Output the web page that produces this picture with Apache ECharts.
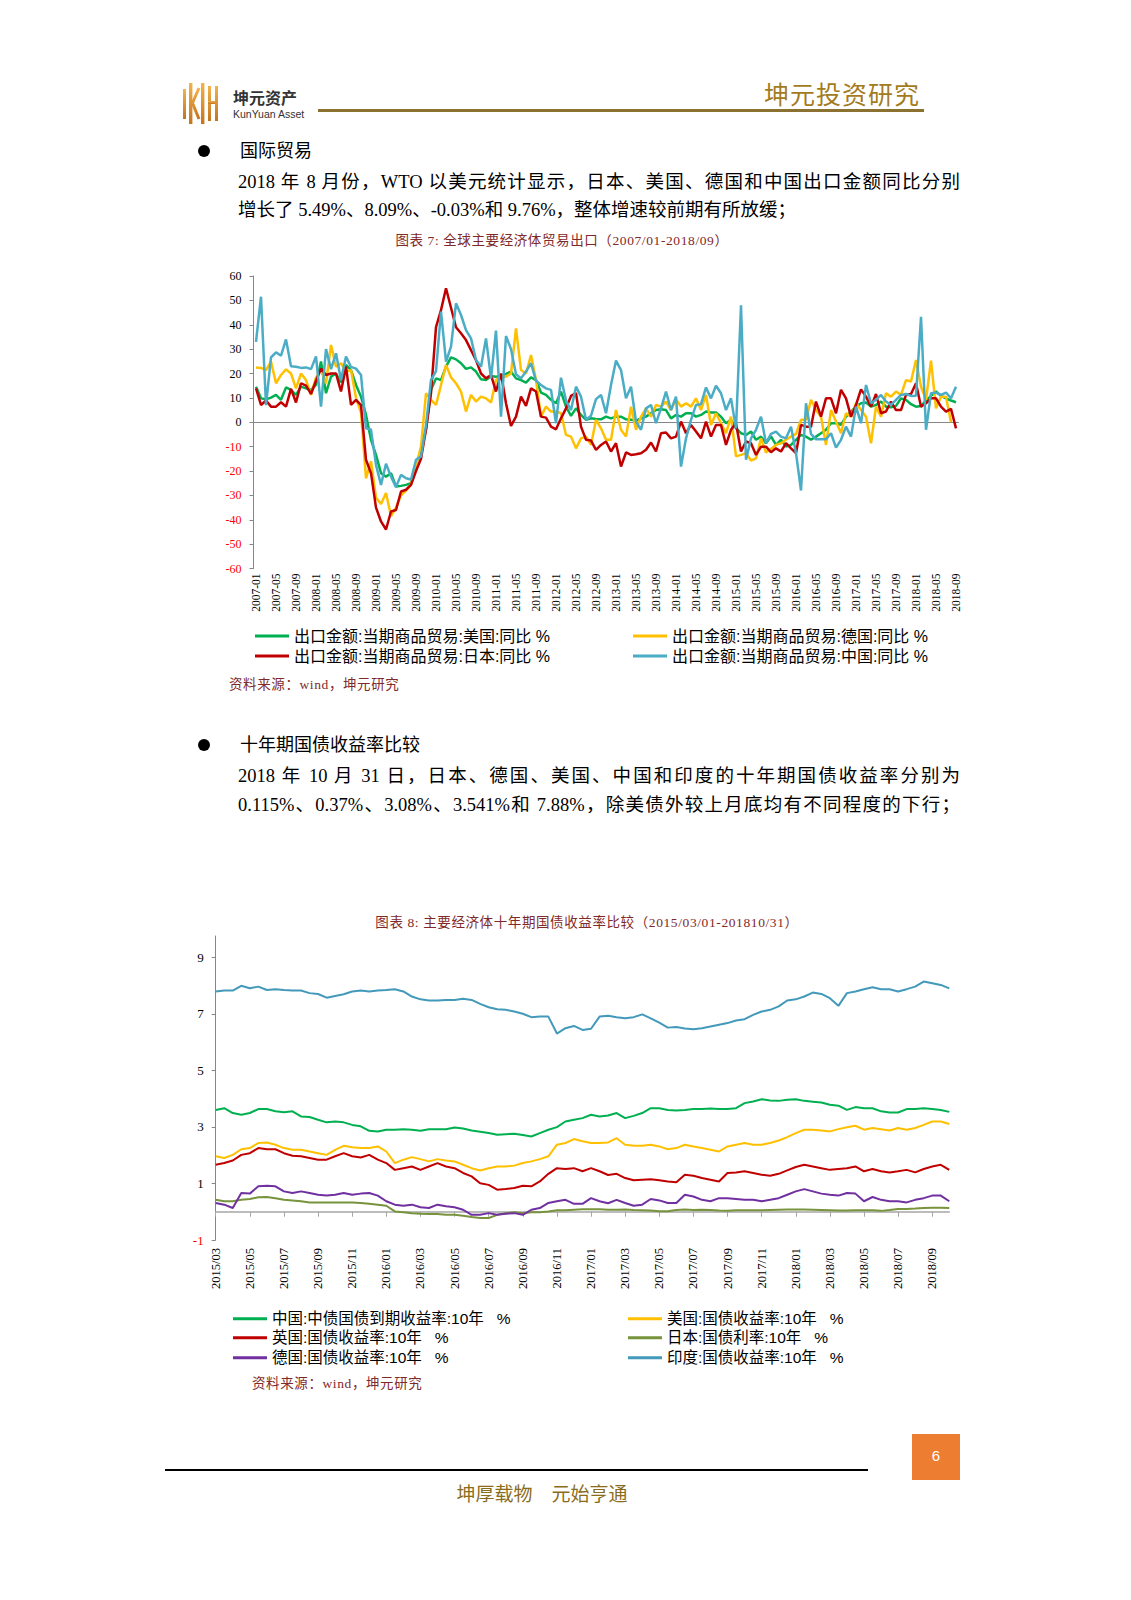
<!DOCTYPE html>
<html lang="zh-CN">
<head>
<meta charset="utf-8">
<script src="https://cdn.jsdelivr.net/npm/echarts@6/dist/echarts.min.js"></script>
<style>
html,body{margin:0;padding:0;background:#fff;}
#page{position:relative;width:1131px;height:1600px;overflow:hidden;background:#fff;}
#chart{position:absolute;left:0;top:0;width:1131px;height:1600px;}
.t{position:absolute;white-space:nowrap;font-family:"Liberation Serif","Noto Sans CJK SC",serif;color:#000;}
.p{position:absolute;left:238px;width:722px;font-size:18.5px;line-height:22px;font-family:"Liberation Serif","Noto Sans CJK SC",serif;color:#000;text-align:justify;}
.j{text-align-last:justify;}
.cap{position:absolute;white-space:nowrap;font-family:"Liberation Serif","Noto Sans CJK SC",serif;color:#7f2a2a;font-size:13.5px;line-height:16px;letter-spacing:0.6px;}
.dot{position:absolute;width:12px;height:12px;border-radius:6px;background:#000;}
</style>
</head>
<body>
<div id="page">
<div id="chart"></div>

<!-- header -->
<svg style="position:absolute;left:183px;top:82px" width="38" height="43" viewBox="0 0 38 43">
  <defs><linearGradient id="g" x1="0" y1="0" x2="0" y2="1"><stop offset="0" stop-color="#f3b24c"/><stop offset="1" stop-color="#c4741d"/></linearGradient></defs>
  <rect x="0" y="7" width="3" height="30" fill="url(#g)"/>
  <rect x="6" y="1" width="3.4" height="41" fill="url(#g)"/>
  <path d="M9.5 21 L16 6 M9.5 21 L16 37" stroke="url(#g)" stroke-width="3" fill="none"/>
  <rect x="18" y="1" width="3.4" height="41" fill="url(#g)"/>
  <rect x="25" y="4" width="3" height="35" fill="url(#g)"/>
  <rect x="25" y="19" width="9" height="3" fill="url(#g)"/>
  <rect x="32" y="4" width="3" height="35" fill="url(#g)"/>
</svg>
<div class="t" style="left:233px;top:87px;font-family:'Noto Sans CJK SC',sans-serif;font-weight:bold;font-size:16px;line-height:20px;color:#333;">坤元资产</div>
<div class="t" style="left:233px;top:107px;font-family:'Liberation Sans','Noto Sans',sans-serif;font-size:10.5px;line-height:14px;color:#333;">KunYuan Asset</div>
<div style="position:absolute;left:318px;top:109px;width:606px;height:2.5px;background:#8c7230;"></div>
<div class="t" style="left:764px;top:78px;font-family:'Noto Sans CJK SC',serif;font-size:25px;line-height:30px;letter-spacing:1px;color:#a47b1c;">坤元投资研究</div>

<!-- section 1 -->
<div class="dot" style="left:198px;top:145px;"></div>
<div class="t" style="left:240px;top:140px;font-size:18px;line-height:22px;">国际贸易</div>
<div class="p j" style="top:171px;">2018 年 8 月份，WTO 以美元统计显示，日本、美国、德国和中国出口金额同比分别</div>
<div class="p" style="top:199px;">增长了 5.49%、8.09%、-0.03%和 9.76%，整体增速较前期有所放缓；</div>
<div class="cap" style="left:562px;top:233px;transform:translateX(-50%);">图表 7: 全球主要经济体贸易出口（2007/01-2018/09）</div>
<div class="cap" style="left:229px;top:677px;">资料来源：wind，坤元研究</div>

<!-- section 2 -->
<div class="dot" style="left:198px;top:739px;"></div>
<div class="t" style="left:240px;top:734px;font-size:18px;line-height:22px;">十年期国债收益率比较</div>
<div class="p j" style="top:765px;">2018 年 10 月 31 日，日本、德国、美国、中国和印度的十年期国债收益率分别为</div>
<div class="p j" style="top:794px;">0.115%、0.37%、3.08%、3.541%和 7.88%，除美债外较上月底均有不同程度的下行；</div>
<div class="cap" style="left:587px;top:915px;transform:translateX(-50%);">图表 8: 主要经济体十年期国债收益率比较（2015/03/01-201810/31）</div>
<div class="cap" style="left:252px;top:1376px;">资料来源：wind，坤元研究</div>

<!-- footer -->
<div style="position:absolute;left:912px;top:1434px;width:48px;height:46px;background:#ed7d31;"></div>
<div class="t" style="left:912px;top:1446px;width:48px;text-align:center;font-family:'Liberation Sans',sans-serif;font-size:15px;line-height:20px;color:#fff;">6</div>
<div style="position:absolute;left:165px;top:1469px;width:703px;height:1.5px;background:#000;"></div>
<div class="t" style="left:542px;top:1481px;transform:translateX(-50%);font-family:'Noto Sans CJK SC',serif;font-size:19px;line-height:24px;color:#8a6d1c;">坤厚载物　元始亨通</div>
</div>

<script>
// ---------- Chart 1: exports YoY (%) ----------
const tradeMonths = [];
for (let y = 2007; y <= 2018; y++) {
  for (let m = 1; m <= 12; m++) {
    if (y === 2018 && m > 9) break;
    tradeMonths.push(y + '-' + String(m).padStart(2, '0'));
  }
}
const tradeNames = ['出口金额:当期商品贸易:美国:同比 %', '出口金额:当期商品贸易:德国:同比 %', '出口金额:当期商品贸易:日本:同比 %', '出口金额:当期商品贸易:中国:同比 %'];
const exportUS = [
  14.6, 9.8, 9.4, 10.1, 11.2, 9.2, 14.3, 13.3, 11.2, 14.6,
  13.9, 13.3, 15.3, 24.9, 11.9, 18.7, 20, 16.3, 23.5, 21.4,
  15.3, 10.5, 3, -7.2, -13.4, -20.9, -22.3, -20.9, -26.4, -26.1,
  -25.7, -25, -16.8, -12, -3, 13.3, 18, 17.3, 22.8, 26.6,
  25.8, 24.2, 21.9, 22.5, 20.8, 17.6, 17.3, 19, 18.7, 19,
  19.8, 20.8, 18, 17.3, 16.3, 18.4, 17.3, 12.2, 11.2, 9.2,
  7.8, 12.6, 6.4, 2.6, 5.7, 3, 1, 1.6, 1.3, 1.2,
  2.3, 1.6, 2.3, 2.3, 1.2, 1, 0.7, 1.6, 2.3, 3.7,
  5, 5.3, 5, 1.6, 3, 2.3, 3.7, 3.7, 2.3, 3,
  4.4, 4, 4, 2.3, -0.4, 1, -2.5, -4.5, -5.2, -3.8,
  -7.2, -5.9, -8.6, -5.8, -9.3, -7.2, -10, -9.3, -7.2, -5.2,
  -5.9, -7.2, -5.9, -4.5, -3.1, -0.4, -0.4, -1.1, 2.3, 4.4,
  6.4, 7.8, 8.1, 6.4, 7.1, 8.5, 6.4, 6.1, 6.7, 9.8,
  9.2, 7.4, 6.4, 6.7, 8.9, 10.8, 12.6, 10.8, 9.8, 8.9, 8.2
];
const exportDE = [
  22.5, 22.3, 21.4, 24.9, 16, 19.4, 21.7, 20, 13.9, 20,
  17.3, 11.2, 18.4, 21.4, 16, 31.7, 22.8, 24.2, 20.8, 21.4,
  10, 4, -23, -16, -31, -33.5, -29, -38.5, -35, -30,
  -28, -25.5, -18, -10, 11.9, 9.2, 7.1, 15.3, 23.5, 18.4,
  16, 12.6, 4.4, 11.2, 8.5, 10.5, 9.8, 8.1, 17.3, 19,
  18.7, 20, 38.5, 21.4, 20, 27.6, 17.3, 2.3, 6.4, 4.4,
  4.4, 3.7, -5.2, -5.9, -10.7, -6.6, -5.9, -9.3, 1, -2.5,
  -7.2, -7.2, 5, -3.1, -5.9, 6.4, -3.1, 2.3, 5.7, 2.3,
  7.1, 6.4, 8.5, 5, 9.4, 6.4, 7.8, 6.4, 9.8, 5,
  11.2, -1.1, 3.7, -0.4, -4.5, 2.3, -14, -13.4, -12.7, -15.7,
  -14.8, -6.6, -12.4, -11, -9.3, -8.6, -7.2, -5.9, -4.8, 1,
  1, 9.2, 5, 2.3, -9.3, 5, 0.3, -4.5, 3.7, 2.3,
  7.8, 5, 2.3, -8.6, 6.4, 2.3, 11.9, 10.5, 12.6, 11.2,
  17.3, 16.7, 25.5, 14.6, 9.2, 25.3, 5.7, 10.5, 10.5, -0.03, null
];
const exportJP = [
  13.9, 7.1, 8.9, 6.4, 6.4, 8.2, 6.4, 13.7, 8.1, 16,
  15, 11.6, 17, 22, 19.4, 20, 20, 12.6, 22.8, 7.1,
  9.2, 7, -15.4, -20.9, -35, -40.7, -44, -36.6, -36, -28.4,
  -27.7, -25.7, -20, -15, -3, 12, 39, 46, 55, 47,
  39, 36.5, 33.7, 29.6, 25.5, 20, 18, 19.4, 12.6, 20,
  7.8, -1.5, 2.3, 10.5, 6.7, 13.9, 12.6, 2.3, 1.9, -1.8,
  -2.9, 1.6, 5.7, 10.8, 12, -1.8, -7.2, -7.5, -11.3, -9.3,
  -7.9, -12, -8.6, -18.2, -12.4, -13.4, -13.1, -12.7, -11.3, -8.3,
  -12, -4.5, -4.2, -6.6, -5.9, 0.3, -4.5, -1.1, -3.8, -6.6,
  0.3, -5.9, -1.1, -1.1, -9.3, -3.1, -0.4, -12, -7.9, -8.6,
  -13.4, -10, -10, -12.3, -10.7, -12, -8.6, -10.7, -12.7, -1.1,
  -1.8, -1.8, 8.5, 2.3, 9.8, 9.8, 3.7, 13.3, 9.8, 2.3,
  7.1, 13.5, 10.5, 6.4, 11.6, 3.7, 4.4, 8.5, 5, 5,
  11.2, 11.6, 16, 6.4, 7.8, 9.8, 9.8, 6.4, 4.4, 5.5, -2.5
];
const exportCN = [
  33, 51.5, 7, 26.6, 28.7, 27.3, 34, 23, 22.8, 22.3,
  22.5, 21.8, 27, 6.4, 30, 21.8, 28.3, 17.3, 27, 22.7,
  22, 19.4, -2.5, -3, -17.5, -25.7, -17, -22.3, -26.6, -21.6,
  -23, -23.5, -15.4, -14, -1.2, 17.3, 21, 45.4, 24.9, 31,
  48.8, 44, 37.8, 34.4, 25.5, 22.8, 34.4, 18, 37.6, 2.3,
  35.4, 30, 19.7, 18, 20.8, 24.2, 17, 15.3, 13.9, 13.3,
  -0.4, 18.3, 8.9, 5, 14.6, 10.5, 1, 2.7, 9.5, 11.2,
  3.7, 15.3, 25.3, 21.4, 9.8, 14.6, 0.3, -3.1, 5.7, 7.1,
  -0.4, 5.7, 12.6, 5, 10.5, -18.2, -6.6, 1, 7.1, 7.4,
  14.3, 9.8, 15, 11.9, 5, 9.8, -2.5, 48, -15.4, -6.6,
  -3.1, 2.3, -8.6, -4.8, -3.8, -5.9, -6.6, -1.8, -12.7, -28,
  7.8, -4.8, -7, -7, -7, -4.5, -10.4, -7.2, -1.8, -5.9,
  6.4, -0.4, 15.3, 7.8, 9.2, 11.2, 8.5, 7.1, 9.2, 11.2,
  11.6, 10.8, 10.9, 43.3, -3.1, 11.9, 12.2, 11.2, 12.2, 9.8, 14.6
];
const tradeColors = ['#00b050', '#ffc000', '#c00000', '#4bacc6'];
const tradeValues = [exportUS, exportDE, exportJP, exportCN];

// ---------- Chart 2: 10Y government bond yields (%) ----------
const bondDates = [];
for (let y = 2015; y <= 2018 && bondDates.length < 87; y++) {
  for (let m = 1; m <= 12 && bondDates.length < 87; m++) {
    if (y === 2015 && m < 3) continue;
    const mm = String(m).padStart(2, '0');
    bondDates.push(y + '/' + mm + '/01');
    if (bondDates.length < 87) bondDates.push(y + '/' + mm + '/16');
  }
}
const bondNames = ['中国:中债国债到期收益率:10年   %', '美国:国债收益率:10年   %', '英国:国债收益率:10年   %', '日本:国债利率:10年   %', '德国:国债收益率:10年   %', '印度:国债收益率:10年   %'];
const yieldCN = [
  3.60, 3.66, 3.49, 3.43, 3.49, 3.63, 3.63, 3.55, 3.52, 3.55,
  3.37, 3.35, 3.25, 3.16, 3.19, 3.16, 3.07, 3.02, 2.86, 2.84,
  2.90, 2.90, 2.92, 2.90, 2.86, 2.92, 2.92, 2.92, 2.98, 2.94,
  2.87, 2.83, 2.78, 2.72, 2.74, 2.76, 2.71, 2.66, 2.78, 2.90,
  2.99, 3.19, 3.25, 3.31, 3.43, 3.37, 3.40, 3.49, 3.31, 3.39,
  3.49, 3.66, 3.66, 3.60, 3.58, 3.60, 3.63, 3.63, 3.65, 3.63,
  3.63, 3.66, 3.84, 3.90, 3.98, 3.93, 3.92, 3.96, 3.98, 3.92,
  3.89, 3.86, 3.78, 3.75, 3.60, 3.70, 3.66, 3.66, 3.55, 3.51,
  3.51, 3.63, 3.63, 3.66, 3.63, 3.60, 3.53
];
const yieldUS = [
  1.96, 1.90, 2.01, 2.21, 2.25, 2.43, 2.45, 2.37, 2.25, 2.19,
  2.19, 2.13, 2.07, 2.01, 2.19, 2.33, 2.28, 2.25, 2.25, 2.31,
  2.13, 1.72, 1.84, 1.93, 1.86, 1.78, 1.86, 1.81, 1.78, 1.66,
  1.54, 1.46, 1.54, 1.60, 1.60, 1.63, 1.72, 1.78, 1.86, 1.96,
  2.37, 2.43, 2.57, 2.49, 2.43, 2.43, 2.45, 2.60, 2.37, 2.33,
  2.33, 2.37, 2.31, 2.21, 2.25, 2.37, 2.31, 2.25, 2.19, 2.13,
  2.31, 2.37, 2.43, 2.37, 2.37, 2.43, 2.52, 2.64, 2.78, 2.90,
  2.90, 2.87, 2.84, 2.92, 2.99, 3.04, 2.90, 2.96, 2.92, 2.87,
  2.96, 2.90, 2.96, 3.07, 3.19, 3.19, 3.10
];
const yieldUK = [
  1.66, 1.72, 1.81, 2.01, 2.07, 2.25, 2.21, 2.21, 2.07, 1.98,
  1.96, 1.90, 1.84, 1.84, 1.96, 2.07, 1.96, 1.92, 2.01, 1.84,
  1.72, 1.48, 1.54, 1.60, 1.48, 1.60, 1.72, 1.60, 1.54, 1.37,
  1.25, 1.01, 0.95, 0.78, 0.80, 0.84, 0.92, 0.90, 1.07, 1.34,
  1.54, 1.51, 1.54, 1.43, 1.54, 1.43, 1.30, 1.34, 1.19, 1.11,
  1.13, 1.15, 1.11, 1.07, 1.04, 1.31, 1.27, 1.19, 1.13, 1.07,
  1.37, 1.39, 1.43, 1.37, 1.31, 1.27, 1.34, 1.46, 1.58, 1.66,
  1.60, 1.54, 1.48, 1.51, 1.54, 1.60, 1.43, 1.51, 1.43, 1.39,
  1.43, 1.48, 1.39, 1.51, 1.60, 1.66, 1.48
];
const yieldJP = [
  0.42, 0.37, 0.37, 0.42, 0.45, 0.51, 0.52, 0.48, 0.42, 0.40,
  0.37, 0.33, 0.33, 0.33, 0.33, 0.33, 0.33, 0.31, 0.28, 0.25,
  0.21, 0.01, -0.02, -0.05, -0.07, -0.08, -0.08, -0.11, -0.11, -0.14,
  -0.19, -0.22, -0.22, -0.11, -0.05, -0.02, -0.05, -0.02, -0.02, 0.01,
  0.05, 0.05, 0.07, 0.09, 0.09, 0.09, 0.07, 0.07, 0.08, 0.06,
  0.05, 0.04, 0.02, 0.02, 0.06, 0.08, 0.06, 0.07, 0.06, 0.04,
  0.03, 0.05, 0.05, 0.05, 0.05, 0.06, 0.07, 0.08, 0.08, 0.08,
  0.07, 0.06, 0.05, 0.04, 0.04, 0.05, 0.05, 0.05, 0.03, 0.06,
  0.10, 0.10, 0.11, 0.13, 0.14, 0.14, 0.13
];
const yieldDE = [
  0.31, 0.25, 0.13, 0.66, 0.64, 0.90, 0.92, 0.90, 0.72, 0.66,
  0.72, 0.66, 0.60, 0.57, 0.60, 0.66, 0.60, 0.64, 0.66, 0.57,
  0.37, 0.25, 0.21, 0.25, 0.16, 0.13, 0.25, 0.19, 0.16, 0.07,
  -0.11, -0.11, -0.05, -0.11, -0.07, -0.05, -0.11, 0.07, 0.13, 0.31,
  0.37, 0.42, 0.28, 0.28, 0.48, 0.37, 0.30, 0.42, 0.31, 0.21,
  0.25, 0.45, 0.40, 0.31, 0.31, 0.60, 0.54, 0.42, 0.37, 0.48,
  0.48, 0.45, 0.42, 0.42, 0.37, 0.42, 0.48, 0.60, 0.72, 0.80,
  0.72, 0.64, 0.60, 0.57, 0.66, 0.64, 0.37, 0.52, 0.42, 0.37,
  0.37, 0.33, 0.42, 0.48, 0.57, 0.57, 0.37
];
const yieldIN = [
  7.79, 7.82, 7.82, 7.99, 7.90, 7.96, 7.84, 7.87, 7.84, 7.82,
  7.82, 7.73, 7.70, 7.57, 7.63, 7.69, 7.79, 7.82, 7.79, 7.82,
  7.84, 7.87, 7.79, 7.61, 7.51, 7.47, 7.47, 7.49, 7.49, 7.53,
  7.49, 7.35, 7.23, 7.16, 7.14, 7.08, 7.00, 6.88, 6.90, 6.90,
  6.30, 6.49, 6.57, 6.43, 6.47, 6.90, 6.93, 6.88, 6.84, 6.88,
  6.98, 6.84, 6.69, 6.51, 6.53, 6.48, 6.45, 6.49, 6.55, 6.61,
  6.67, 6.76, 6.81, 6.96, 7.08, 7.14, 7.26, 7.47, 7.51, 7.61,
  7.75, 7.70, 7.55, 7.28, 7.73, 7.79, 7.87, 7.94, 7.87, 7.87,
  7.79, 7.87, 7.96, 8.14, 8.08, 8.02, 7.90
];
const bondColors = ['#00b050', '#ffc000', '#c00000', '#77933c', '#7030a0', '#4299ba'];
const bondValues = [yieldCN, yieldUS, yieldUK, yieldJP, yieldDE, yieldIN];
const bondTicks = [-1, 1, 3, 5, 7, 9];

// ---------- build ----------
const SERIF = '"Liberation Serif", "Times New Roman", serif';
const SANS = '"Liberation Sans", "Noto Sans CJK SC", sans-serif';
const negFmt = v => (v < 0 ? '{n|' + v + '}' : String(v));

const series = [];
tradeNames.forEach((n, i) => series.push({
  name: n, type: 'line', xAxisIndex: 0, yAxisIndex: 0, data: tradeValues[i],
  showSymbol: false, symbol: 'none', connectNulls: false,
  lineStyle: { width: 2.5, color: tradeColors[i] }, itemStyle: { color: tradeColors[i] }
}));
bondNames.forEach((n, i) => series.push({
  name: n, type: 'line', xAxisIndex: 2, yAxisIndex: 1, data: bondValues[i],
  showSymbol: false, symbol: 'none',
  lineStyle: { width: 2, color: bondColors[i] }, itemStyle: { color: bondColors[i] }
}));

const legendPos = [
  [tradeNames[0], 255, 637, 16], [tradeNames[1], 633, 637, 16],
  [tradeNames[2], 255, 657, 16], [tradeNames[3], 633, 657, 16],
  [bondNames[0], 233, 1320, 15.5], [bondNames[1], 628, 1320, 15.5],
  [bondNames[2], 233, 1339, 15.5], [bondNames[3], 628, 1339, 15.5],
  [bondNames[4], 233, 1359, 15.5], [bondNames[5], 628, 1359, 15.5]
];
const legends = legendPos.map(([n, x, y, fs]) => ({
  data: [n], left: x, top: y - 9, padding: 0, itemGap: 0,
  icon: 'rect', itemWidth: 34, itemHeight: 3, selectedMode: false,
  textStyle: { fontSize: fs, color: '#000', fontFamily: SANS }
}));

const chart = echarts.init(document.getElementById('chart'), null, { renderer: 'svg' });
chart.setOption({
  animation: false,
  backgroundColor: 'transparent',
  legend: legends,
  grid: [
    { left: 253.5, top: 276, width: 705, height: 292.5 },
    { left: 215.7, top: 936, width: 733.6, height: 304 }
  ],
  xAxis: [
    { gridIndex: 0, type: 'category', data: tradeMonths, boundaryGap: true,
      axisLine: { onZero: true, lineStyle: { color: '#868686', width: 1 } },
      axisTick: { interval: 3, length: 4, lineStyle: { color: '#868686' } },
      axisLabel: { show: false }, splitLine: { show: false } },
    { gridIndex: 0, type: 'category', data: tradeMonths, boundaryGap: true, position: 'bottom',
      axisLine: { show: false, onZero: false }, axisTick: { show: false },
      axisLabel: { interval: 3, rotate: 90, margin: 5, fontSize: 11.5, color: '#000', fontFamily: SERIF } },
    { gridIndex: 1, type: 'category', data: bondDates, boundaryGap: false,
      axisLine: { onZero: true, lineStyle: { color: '#a6a6a6', width: 1.5 } },
      axisTick: { interval: 3, length: 5, lineStyle: { color: '#a6a6a6' } },
      axisLabel: { show: false }, splitLine: { show: false } },
    { gridIndex: 1, type: 'category', data: bondDates, boundaryGap: false, position: 'bottom',
      axisLine: { show: false, onZero: false }, axisTick: { show: false },
      axisLabel: { interval: 3, rotate: 90, margin: 8, fontSize: 12.5, color: '#000', fontFamily: SERIF,
        formatter: v => v.slice(0, 7) } }
  ],
  yAxis: [
    { gridIndex: 0, type: 'value', min: -60, max: 60, interval: 10,
      axisLine: { show: true, lineStyle: { color: '#868686' } },
      axisTick: { show: true, length: 4, lineStyle: { color: '#868686' } },
      splitLine: { show: false },
      axisLabel: { margin: 12, fontSize: 12, color: '#000', fontFamily: SERIF, formatter: negFmt,
        rich: { n: { color: '#ff0000', fontSize: 12, fontFamily: SERIF } } } },
    { gridIndex: 1, type: 'value', min: -1, max: 9.75,
      axisLine: { show: true, lineStyle: { color: '#868686' } },
      axisTick: { show: true, length: 4, customValues: bondTicks, lineStyle: { color: '#868686' } },
      splitLine: { show: false },
      axisLabel: { customValues: bondTicks, margin: 12, fontSize: 13, color: '#000', fontFamily: SERIF, formatter: negFmt,
        rich: { n: { color: '#ff0000', fontSize: 13, fontFamily: SERIF } } } }
  ],
  series: series
});
</script>
</body>
</html>
